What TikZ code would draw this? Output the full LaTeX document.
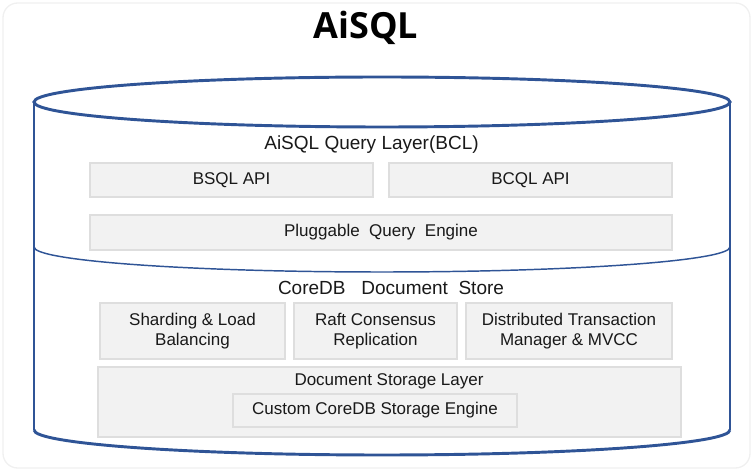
\documentclass[tikz,border=0pt]{standalone}
\usepackage{fontspec}
\setmainfont{Liberation Sans}
\newfontfamily\titlefont{Open Sans}
\definecolor{cylblue}{RGB}{47,84,150}
\definecolor{boxfill}{RGB}{242,242,242}
\definecolor{boxline}{RGB}{222,222,222}
\definecolor{txt}{RGB}{25,25,25}
\tikzset{
  box/.style={draw=boxline, fill=boxfill, line width=0.8pt, inner sep=0pt, text=txt, align=center,
    font=\fontsize{12.75}{15.5}\selectfont},
  layertext/.style={text=txt, inner sep=0pt, font=\fontsize{14.25}{17}\selectfont},
  cyl/.style={draw=cylblue, line width=2.2pt}
}
\begin{document}
\begin{tikzpicture}[x=0.75pt, y=0.75pt]
\useasboundingbox (0,0) rectangle (753,471);
\draw[gray!12, line width=1pt, rounded corners=11pt] (3,3) rectangle (750,468);
\node[anchor=base, inner sep=0pt, font=\titlefont\bfseries\fontsize{27}{32}\selectfont] (title) at (366,432) {AiSQL};
\draw[cyl] (34,41) -- (34,369);
\draw[cyl] (730,41) -- (730,369);
\draw[cyl] (382,369) ellipse [x radius=348, y radius=25];
\draw[cyl] (34,41) arc (180:360:348 and 25);
\draw[draw=cylblue, line width=1.1pt] (34,224) arc (180:360:348 and 25);
\node[layertext] (querylayer) at (371.5,326) {AiSQL Query Layer(BCL)};
\node[box, minimum width=212.25pt, minimum height=25.5pt] (bsql) at (231.5,291) {BSQL API};
\node[box, minimum width=212.25pt, minimum height=25.5pt] (bcql) at (530.5,291) {BCQL API};
\node[box, minimum width=436.5pt, minimum height=26.25pt] (engine) at (381,238.5) {Pluggable\ \ Query\ \ Engine};
\node[layertext] (coredb) at (391,183) {CoreDB\ \ \ Document\ \ Store};
\node[box, minimum width=138.75pt, minimum height=42pt] (sharding) at (192.5,140) {Sharding \& Load\\Balancing};
\node[box, minimum width=122.25pt, minimum height=42pt] (raft) at (375.5,140) {Raft Consensus\\Replication};
\node[box, minimum width=154.5pt, minimum height=42pt] (txn) at (569,140) {Distributed Transaction\\Manager \& MVCC};
\node[box, minimum width=437.25pt, minimum height=52.5pt] (storage) at (389.5,69) {};
\node[text=txt, inner sep=0pt, font=\fontsize{12.75}{15.5}\selectfont] (storagetext) at (389,90) {Document Storage Layer};
\node[box, minimum width=213pt, minimum height=24.75pt] (custom) at (375,60.5) {Custom CoreDB Storage Engine};
\end{tikzpicture}
\end{document}
